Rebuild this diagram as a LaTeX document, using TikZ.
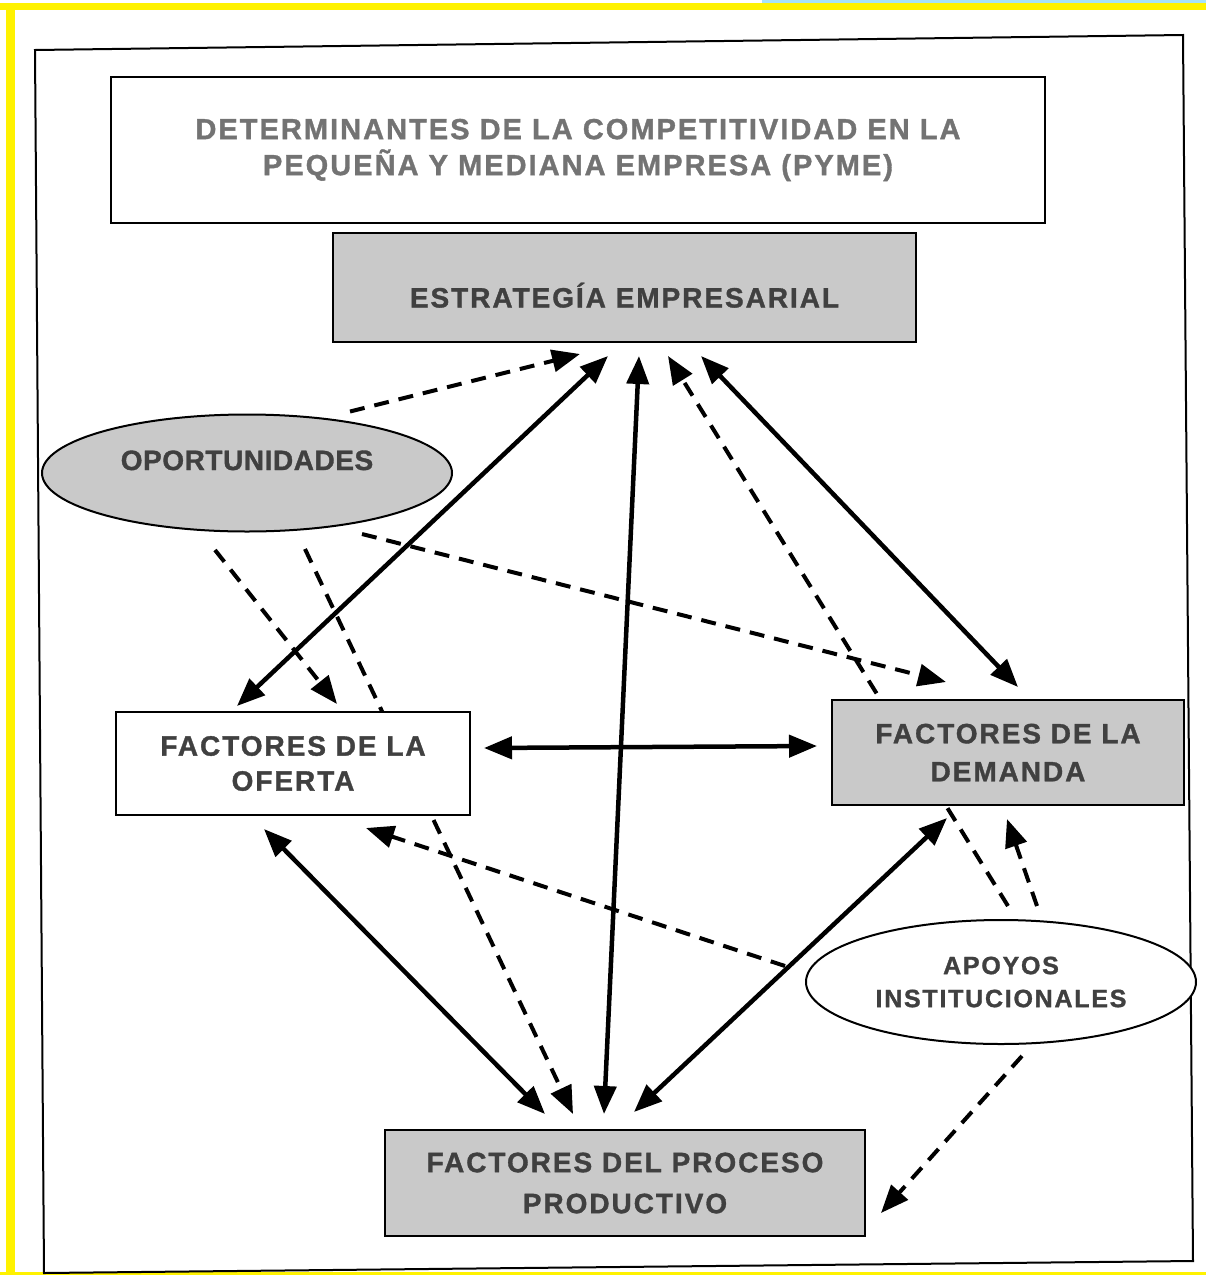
\documentclass[tikz,border=0pt]{standalone}
\usepackage{fontspec}
\setmainfont{Liberation Sans}
\newfontfamily\cajafont{Liberation Sans}[LetterSpace=7,FakeBold=1.2]
\usetikzlibrary{arrows.meta,shapes.geometric,calc,backgrounds}

\begin{document}
\begin{tikzpicture}[x=1pt,y=-1pt,
    caja/.style={draw, line width=2pt, align=center, inner sep=0pt, text=black!75,
      font=\cajafont\bfseries\fontsize{28}{38}\selectfont},
    sombreada/.style={caja, fill=gray!42},
    blanca/.style={caja, fill=white},
    elipse/.style={caja, ellipse},
    punta/.tip={Triangle[length=28pt,width=22pt]},
    doble/.style={punta-punta, line width=4.5pt},
    guion/.style={-punta, line width=4pt, dash pattern=on 15pt off 10pt}]
    \useasboundingbox (0,0) rectangle (1206,1275);

    % Marco
    \fill[yellow] (0,3) rectangle (1206,10);
    \fill[yellow] (6,3) rectangle (15,1275);
    \fill[yellow] (0,1272) rectangle (1206,1275);
    \fill[cyan!35] (762,0) rectangle (1206,3);
    \draw[line width=2pt] (35,50) -- (1183,35) -- (1193,1261) -- (44,1273) -- cycle;

    % Cajas
    \node[blanca, minimum width=934pt, minimum height=146pt, text=black!55,
      font=\cajafont\bfseries\fontsize{29}{36}\selectfont] (titulo) at (578,150)
      {DETERMINANTES DE LA COMPETITIVIDAD EN LA\\PEQUEÑA Y MEDIANA EMPRESA (PYME)};
    \node[sombreada, minimum width=583pt, minimum height=109pt] (estr) at (624.5,287.5)
      {\raisebox{0pt}[40pt][0pt]{ESTRATEGÍA EMPRESARIAL}};
    \node[elipse, fill=gray!42, minimum width=410pt, minimum height=117pt,
      font=\cajafont\bfseries\fontsize{28}{38}\addfontfeatures{LetterSpace=2}\selectfont] (oport) at (247,473)
      {\raisebox{0pt}[20pt][26pt]{OPORTUNIDADES}};
    \node[blanca, minimum width=354pt, minimum height=103pt,
      font=\cajafont\bfseries\fontsize{28}{35}\selectfont] (ofer) at (293,763.5)
      {FACTORES DE LA\\OFERTA};
    \node[sombreada, minimum width=352pt, minimum height=105pt] (dem) at (1008,752.5)
      {FACTORES DE LA\\DEMANDA};
    \node[elipse, fill=white, minimum width=390pt, minimum height=124pt,
      font=\cajafont\bfseries\fontsize{25}{33}\selectfont] (apo) at (1001,982)
      {APOYOS\\INSTITUCIONALES};
    \node[sombreada, minimum width=480pt, minimum height=106pt,
      font=\cajafont\bfseries\fontsize{28}{41}\selectfont] (proc) at (625,1183)
      {FACTORES DEL PROCESO\\PRODUCTIVO};

    \begin{pgfonlayer}{background}
    \fill[white] (0,0) rectangle (1206,1275);

    % Relaciones directas
    \draw[doble] ($(ofer.north)+(-56,-5)$) -- ($(estr.south)+(-16.5,13)$);
    \draw[doble] ($(proc.north)+(-21,-15)$) -- ($(estr.south)+(14.5,13)$);
    \draw[doble] ($(estr.south)+(76.5,13)$) -- ($(dem.north)+(10,-12)$);
    \draw[doble] ($(ofer.east)+(13,-15.5)$) -- ($(dem.west)+(-14,-6.5)$);
    \draw[doble] ($(ofer.south)+(-29,13)$) -- ($(proc.north)+(-80,-15)$);
    \draw[doble] ($(dem.south)+(-61,12)$) -- ($(proc.north)+(9,-17)$);

    % Influencias
    \draw[guion] ($(oport.north)+(103,-2)$) -- ($(estr.south)+(-44.5,11)$);
    \draw[guion] ($(oport.south)+(-32,17.5)$) -- ($(ofer.north)+(44,-7)$);
    \draw[guion] ($(oport.south)+(58,16.5)$) -- ($(proc.north)+(-52,-15)$);
    \draw[guion] ($(oport.south)+(115,1.5)$) -- ($(dem.north)+(-62,-17)$);
    \draw[guion] ($(apo.north)+(7,-13)$) -- ($(estr.south)+(43.5,13)$);
    \draw[guion] ($(apo.north)+(36,-13)$) -- ($(dem.south)+(-1,13)$);
    \draw[guion] ($(apo.west)+(-20,-16)$) -- ($(ofer.south)+(73,12)$);
    \draw[guion] ($(apo.south)+(21,11)$) -- ($(proc.east)+(15,30)$);
    \end{pgfonlayer}
\end{tikzpicture}
\end{document}
